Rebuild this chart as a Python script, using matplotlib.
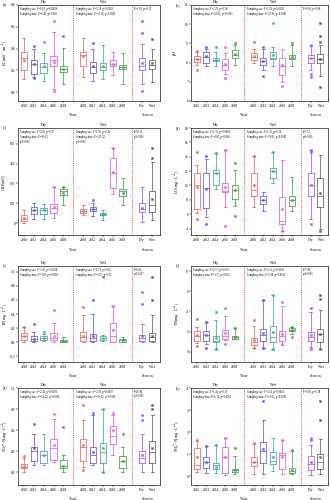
import matplotlib
matplotlib.use("Agg")
import matplotlib.pyplot as plt
from matplotlib.transforms import blended_transform_factory

plt.rcParams['font.family'] = ['Liberation Serif', 'DejaVu Serif']
plt.rcParams['mathtext.fontset'] = 'stix'

# Groups: dry season 2010-2018, wet season 2010-2018, season totals (Dry, Wet)
years = ['2010', '2012', '2014', '2016', '2018']
seasons = ['Dry', 'Wet']
tick_labels = years + years + seasons
positions = [1, 2, 3, 4, 5, 7, 8, 9, 10, 11, 13, 14]
colors = ['#e46a6a', '#6458d8', '#3fa9a0', '#e05ee0', '#46a24a'] * 2 + ['#a25ae6', '#606060']

# (a) EC
ec_lo = [0.12, 0.14, 0.10, 0.03, 0.08, 0.14, 0.10, 0.12, 0.16, 0.08, 0.08, 0.09]
ec_q1 = [0.20, 0.17, 0.18, 0.24, 0.19, 0.24, 0.18, 0.20, 0.24, 0.21, 0.20, 0.21]
ec_med = [0.31, 0.26, 0.23, 0.30, 0.21, 0.34, 0.23, 0.23, 0.26, 0.23, 0.24, 0.25]
ec_q3 = [0.37, 0.30, 0.27, 0.33, 0.24, 0.37, 0.28, 0.27, 0.30, 0.25, 0.31, 0.30]
ec_hi = [0.50, 0.40, 0.36, 0.55, 0.41, 0.50, 0.40, 0.43, 0.37, 0.36, 0.44, 0.40]
ec_mean = [0.30, 0.26, 0.24, 0.28, 0.21, 0.33, 0.24, 0.24, 0.26, 0.23, 0.27, 0.27]
ec_out = [[], [0.42, 0.13], [0.46], [0.65, 0.01], [0.52], [], [0.45], [], [], [],
          [0.65, 0.54, 0.01], [0.49]]

# (b) pH
ph_lo = [7.90, 7.80, 7.83, 7.40, 7.90, 7.97, 7.60, 7.80, 7.00, 7.80, 7.63, 7.30]
ph_q1 = [8.05, 8.00, 8.10, 7.63, 8.22, 8.14, 7.88, 8.17, 7.33, 8.17, 8.00, 7.97]
ph_med = [8.17, 8.30, 8.14, 7.90, 8.40, 8.30, 8.09, 8.26, 7.80, 8.26, 8.22, 8.19]
ph_q3 = [8.36, 8.56, 8.22, 8.17, 8.64, 8.48, 8.22, 8.56, 8.22, 8.42, 8.42, 8.44]
ph_hi = [8.55, 8.72, 8.55, 8.50, 8.90, 8.70, 8.70, 8.80, 8.70, 8.90, 8.85, 8.90]
ph_mean = [8.18, 8.33, 8.14, 7.93, 8.43, 8.33, 8.10, 8.40, 7.88, 8.30, 8.24, 8.19]
ph_out = [[8.60, 7.63], [8.80], [8.80], [8.80, 7.20], [9.00], [9.05], [8.80, 7.30], [10.07],
          [6.76], [9.00], [8.90, 7.40, 7.27], [10.07, 9.40, 9.07, 6.74]]

# (c) ORP
orp_lo = [0, 33, 33, 38, 135, 58, 51, 25, 224, 135, 8, 25]
orp_q1 = [13, 71, 71, 76, 211, 76, 89, 58, 267, 206, 84, 84]
orp_med = [33, 100, 97, 114, 241, 89, 109, 71, 376, 241, 109, 135]
orp_q3 = [58, 122, 114, 147, 256, 109, 122, 79, 490, 262, 152, 241]
orp_hi = [97, 155, 142, 274, 274, 135, 155, 97, 566, 338, 274, 465]
orp_mean = [40, 100, 97, 122, 229, 89, 105, 71, 389, 229, 112, 180]
orp_out = [[], [], [], [274], [274], [], [173], [], [572], [], [], [572, 495]]

# (d) DO
do_lo = [6.2, 5.6, 9.5, 7.0, 7.2, 7.0, 6.4, 10.3, 3.7, 6.4, 5.3, 3.9]
do_q1 = [6.7, 6.9, 10.1, 9.1, 8.1, 8.6, 7.4, 11.1, 4.6, 7.2, 8.5, 7.0]
do_med = [10.0, 9.6, 11.8, 9.2, 9.3, 9.3, 8.0, 12.0, 5.0, 8.0, 10.0, 8.5]
do_q3 = [11.7, 11.7, 12.2, 10.4, 10.05, 11.7, 8.5, 12.4, 8.4, 8.5, 11.8, 11.0]
do_hi = [12.9, 13.7, 14.5, 15.0, 12.2, 14.1, 9.1, 14.7, 13.6, 11.2, 15.0, 14.3]
do_mean = [9.8, 9.5, 11.8, 9.8, 9.4, 10.0, 8.0, 12.0, 6.7, 8.0, 10.0, 9.0]
do_out = [[14.6, 5.3], [14.1, 4.6], [14.5], [15.0, 4.4], [13.1, 5.8], [14.1], [], [14.7],
          [3.6], [], [15.0, 14.6, 4.6], [3.6]]

# (e) TP
tp_lo = [0.01, 0.0, 0.015, 0.0, 0.0, 0.0, 0.0, 0.015, 0.0, 0.0, 0.0, 0.0]
tp_q1 = [0.03, 0.02, 0.03, 0.03, 0.01, 0.02, 0.02, 0.03, 0.01, 0.01, 0.02, 0.02]
tp_med = [0.09, 0.05, 0.065, 0.065, 0.02, 0.07, 0.065, 0.055, 0.09, 0.025, 0.055, 0.07]
tp_q3 = [0.135, 0.09, 0.09, 0.125, 0.028, 0.15, 0.115, 0.09, 0.27, 0.04, 0.10, 0.125]
tp_hi = [0.22, 0.15, 0.12, 0.27, 0.07, 0.38, 0.40, 0.10, 0.52, 0.07, 0.26, 0.38]
tp_mean = [0.09, 0.05, 0.065, 0.09, 0.02, 0.09, 0.09, 0.055, 0.17, 0.025, 0.09, 0.09]
tp_out = [[0.22], [0.26], [0.15], [0.46], [], [0.50], [0.60], [0.93], [0.52], [],
          [0.71, 0.54], [0.93, 0.60]]

# (f) TN
tn_lo = [0.9, 0.75, 0.33, 1.15, 1.3, 0.4, 0.4, 0.23, 0.66, 1.8, 0.5, 0.3]
tn_q1 = [1.1, 1.1, 0.95, 1.3, 1.3, 0.72, 1.1, 1.0, 1.1, 2.05, 1.1, 1.0]
tn_med = [1.6, 1.65, 1.05, 1.55, 1.45, 0.95, 1.65, 1.45, 1.55, 2.2, 1.45, 1.75]
tn_q3 = [2.1, 2.1, 1.6, 2.2, 1.55, 1.35, 2.25, 2.6, 2.1, 2.35, 1.95, 2.3]
tn_hi = [2.5, 3.0, 3.2, 3.6, 2.4, 2.6, 5.1, 5.6, 4.5, 2.5, 3.9, 4.1]
tn_mean = [1.65, 1.65, 1.35, 1.85, 1.45, 1.15, 1.9, 1.95, 1.8, 2.2, 1.7, 1.8]
tn_out = [[3.3, 0.55], [3.0, 0.4], [3.95, 0.25], [4.35, 0.8], [2.4], [3.2, 0.35], [5.1, 0.35],
          [5.6, 0.25], [4.9, 0.75], [2.5, 1.45], [4.35, 0.3], [5.6, 5.2, 0.3]]

# (g) NO3--N
no3_lo = [0.0, 0.1, 0.1, 0.145, 0.0, 0.08, 0.1, 0.0, 0.25, 0.0, 0.0, 0.0]
no3_q1 = [0.06, 0.155, 0.14, 0.18, 0.06, 0.16, 0.14, 0.13, 0.41, 0.06, 0.13, 0.13]
no3_med = [0.08, 0.30, 0.25, 0.35, 0.09, 0.36, 0.24, 0.29, 0.52, 0.155, 0.21, 0.29]
no3_q3 = [0.116, 0.36, 0.30, 0.47, 0.18, 0.48, 0.36, 0.42, 0.66, 0.23, 0.30, 0.45]
no3_hi = [0.2, 0.55, 0.55, 0.76, 0.25, 0.74, 0.82, 0.90, 0.82, 0.36, 0.55, 0.81]
no3_mean = [0.09, 0.34, 0.25, 0.39, 0.09, 0.39, 0.29, 0.34, 0.60, 0.16, 0.25, 0.34]
no3_out = [[0.23], [0.69], [], [0.83], [0.64], [0.96, 0.03], [0.84], [0.90, 0.0],
           [0.84], [0.55], [0.81, 0.74], [0.96, 0.90]]

# (h) NH4+-N
nh4_lo = [0.18, 0.15, 0.15, 0.05, 0.1, 0.1, 0.1, 0.23, 0.1, 0.08, 0.05, 0.08]
nh4_q1 = [0.31, 0.38, 0.34, 0.15, 0.2, 0.46, 0.62, 0.54, 0.31, 0.15, 0.26, 0.31]
nh4_med = [0.51, 0.66, 0.51, 0.88, 0.26, 0.65, 1.15, 0.69, 0.97, 0.23, 0.54, 0.66]
nh4_q3 = [1.28, 0.85, 0.62, 1.31, 0.34, 0.85, 1.54, 1.08, 1.03, 0.35, 0.92, 1.0]
nh4_hi = [1.6, 1.35, 1.40, 1.72, 0.9, 1.45, 2.54, 1.72, 1.62, 1.15, 1.40, 1.69]
nh4_mean = [0.85, 0.66, 0.42, 0.85, 0.26, 0.65, 1.23, 0.88, 0.85, 0.26, 0.66, 0.85]
nh4_out = [[1.62], [1.38], [1.42], [1.74], [1.28], [1.49], [3.43], [], [1.65], [1.18],
           [1.74, 1.62], [3.43, 2.54]]

panel_data = [
    ('(a)', 'EC(mS · cm$^{-1}$)', ec_lo, ec_q1, ec_med, ec_q3, ec_hi, ec_mean, ec_out,
     (-0.08, 0.8), [0.0, 0.2, 0.4, 0.6, 0.8], '{:.1f}',
     ['Sampling site: F=0.63, p=0.0008', 'Sampling time: F=6.46, p=0.002'],
     ['Sampling site: F=5.18, p<0.0001', 'Sampling time: F=11.26, p<0.0001'],
     ['F=1.18, p=0.15']),
    ('(b)', 'pH', ph_lo, ph_q1, ph_med, ph_q3, ph_hi, ph_mean, ph_out,
     (6, 11), [6, 7, 8, 9, 10, 11], '{:.0f}',
     ['Sampling site: F=2.21, p=0.28', 'Sampling time: F=10.01, p<0.0001'],
     ['Sampling site: F=2.21, p=0.0042', 'Sampling time: F=11.91, p<0.0001'],
     ['F=0.18, p=0.68']),
    ('(c)', 'ORP(mV)', orp_lo, orp_q1, orp_med, orp_q3, orp_hi, orp_mean, orp_out,
     (-90, 720), [0, 150, 300, 450, 600], '{:.0f}',
     ['Sampling site: F=0.93, p=0.57', 'Sampling time: F=95.65,', 'p<0.0001'],
     ['Sampling site: F=1.15, p=0.42', 'Sampling time: F=115.52,', 'p<0.0001'],
     ['F=59.15,', 'p<0.0001']),
    ('(d)', 'DO(mg · L$^{-1}$)', do_lo, do_q1, do_med, do_q3, do_hi, do_mean, do_out,
     (3.1, 18), [4, 6, 8, 10, 12, 14, 16, 18], '{:.0f}',
     ['Sampling site: F=1.35, p=0.0009', 'Sampling time: F=4.03, p=0.002'],
     ['Sampling site: F=1.30, p=0.16', 'Sampling time: F=31.01, p<0.0001'],
     ['F=7.52,', 'p=0.0001']),
    ('(e)', 'TP(mg · L$^{-1}$)', tp_lo, tp_q1, tp_med, tp_q3, tp_hi, tp_mean, tp_out,
     (-0.28, 1.08), [-0.2, 0.0, 0.2, 0.4, 0.6, 0.8, 1.0], '{:.1f}',
     ['Sampling site: F=2.42, p=0.0004', 'Sampling time: F=3.03, p=0.0002'],
     ['Sampling site: F=1.72, p=0.04', 'Sampling time: F=1.07, p=0.32'],
     ['F=0.42,', 'p=0.0017']),
    ('(f)', 'TN(mg · L$^{-1}$)', tn_lo, tn_q1, tn_med, tn_q3, tn_hi, tn_mean, tn_out,
     (-1.0, 8.5), [0, 2, 4, 6, 8], '{:.0f}',
     ['Sampling site: F=2.17, p=0.001', 'Sampling time: F=3.17, p=0.012'],
     ['Sampling site: F=2.12, p=0.0001', 'Sampling time: F=1.94, p=0.0001'],
     ['F=7.98,', 'p=0.0061']),
    ('(g)', 'NO$_3^-$-N(mg · L$^{-1}$)', no3_lo, no3_q1, no3_med, no3_q3, no3_hi, no3_mean,
     no3_out, (-0.18, 1.2), [0.0, 0.3, 0.6, 0.9, 1.2], '{:.1f}',
     ['Sampling site: F=2.42, p=0.0006', 'Sampling time: F=14.22, p<0.0001'],
     ['Sampling site: F=2.39, p=0.0007', 'Sampling time: F=16.02, p<0.0001'],
     ['F=26.96,', 'p<0.0001']),
    ('(h)', 'NH$_4^+$-N(mg · L$^{-1}$)', nh4_lo, nh4_q1, nh4_med, nh4_q3, nh4_hi, nh4_mean,
     nh4_out, (-0.4, 4.0), [0, 1, 2, 3, 4], '{:.0f}',
     ['Sampling site: F=1.41, p=0.13', 'Sampling time: F=6.12, p=0.0002'],
     ['Sampling site: F=3.34, p=0.0001', 'Sampling time: F=13.02, p<0.0001'],
     ['F=0.88, p=0.38']),
]

W, H = 330, 500
fig = plt.figure(figsize=(W / 100, H / 100), dpi=100)

col_x = [(18, 160), (191, 328)]
label_x = [1, 173]
tag_x = [3, 176]
row_y = [(5, 101), (128, 235), (266, 362), (388, 485)]

LW = 0.55
for k, (tag, ylab, lo, q1, med, q3, hi, mean, out, ylim, yt, fmt,
        dry_txt, wet_txt, sea_txt) in enumerate(panel_data):
    r, c = divmod(k, 2)
    x0, x1 = col_x[c]
    y0, y1 = row_y[r]
    wpx = x1 - x0
    ax = fig.add_axes([x0 / W, 1 - y1 / H, wpx / W, (y1 - y0) / H])
    for i, p in enumerate(positions):
        col = colors[i]
        st = dict(whislo=lo[i], q1=q1[i], med=med[i], q3=q3[i], whishi=hi[i],
                  mean=mean[i], fliers=out[i])
        ax.bxp([st], positions=[p], widths=0.64, capwidths=0.3, showmeans=True,
               boxprops=dict(color=col, lw=LW),
               medianprops=dict(color=col, lw=LW),
               whiskerprops=dict(color=col, lw=LW),
               capprops=dict(color=col, lw=LW),
               flierprops=dict(marker='s', ms=1.4, mfc=col, mec=col, mew=0.3),
               meanprops=dict(marker='s', ms=1.4, mfc=col, mec=col, mew=0.3))
    for xv in (6, 12):
        ax.axvline(xv, color='#e03030', ls=(0, (1, 1.2)), lw=0.6)
    ax.set_xlim(0.4, 14.8)
    ax.set_ylim(*ylim)
    ax.set_xticks(positions)
    ax.set_xticklabels(tick_labels, fontsize=2.6)
    ax.set_yticks(yt)
    ax.set_yticklabels([fmt.format(v) for v in yt], fontsize=2.6)
    ax.tick_params(length=1.2, width=0.35, pad=0.8)
    for s in ax.spines.values():
        s.set_linewidth(0.45)
    # y-axis title, placed by its left edge in figure pixels
    ytrans = blended_transform_factory(fig.transFigure, ax.transAxes)
    ax.text(label_x[c] / W, 0.5, ylab, transform=ytrans, rotation=90, fontsize=2.9,
            ha='left', va='center')
    ax.text(tag_x[c] / W, 1.0, tag, transform=ytrans, fontsize=3.0,
            ha='left', va='center')
    # group headers and axis titles
    ax.text(3, 1.01, 'Dry', transform=ax.get_xaxis_transform(), fontsize=2.8,
            ha='center', va='bottom')
    ax.text(9, 1.01, 'Wet', transform=ax.get_xaxis_transform(), fontsize=2.8,
            ha='center', va='bottom')
    ax.text(6, -0.12, 'Year', transform=ax.get_xaxis_transform(), fontsize=3.0,
            ha='center', va='top')
    ax.text(13.5, -0.12, 'Season', transform=ax.get_xaxis_transform(), fontsize=3.0,
            ha='center', va='top')
    # test statistics
    for xs, lines in ((0.6, dry_txt), (6.3, wet_txt), (12.2, sea_txt)):
        ax.text(xs, 0.985, '\n'.join(lines), transform=ax.get_xaxis_transform(),
                fontsize=2.0, ha='left', va='top', linespacing=1.3)

fig.savefig('out.png', dpi=100, facecolor='white')
